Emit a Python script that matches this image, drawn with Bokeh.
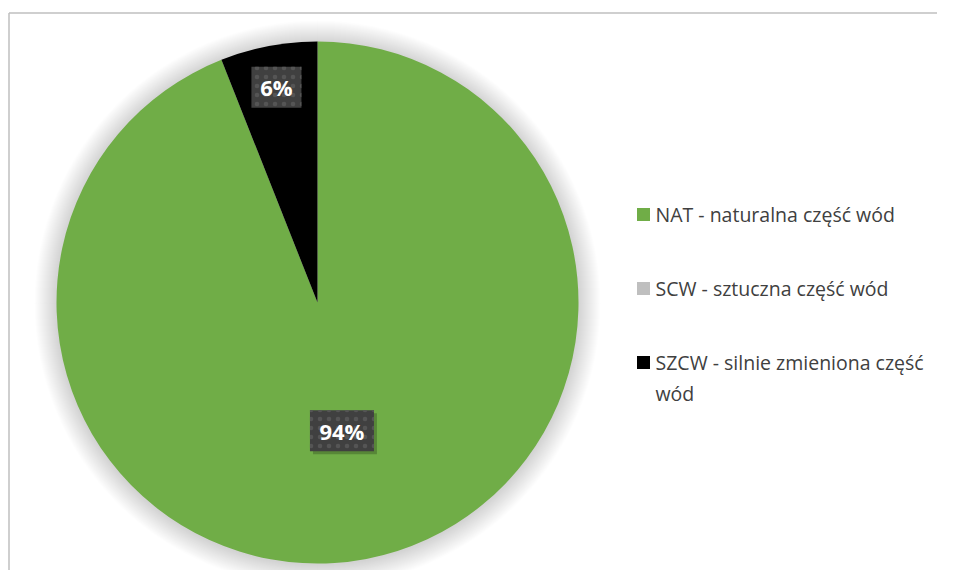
import math
from bokeh.plotting import figure
from bokeh.models import Range1d
from bokeh.core.properties import value
from bokeh.embed import file_html
from bokeh.resources import INLINE

# ---- data ----
categories = ["NAT - naturalna część wód", "SCW - sztuczna część wód", "SZCW - silnie zmieniona część\nwód"]
shares = [94, 0, 6]
colors = ["#70AD47", "#BFBFBF", "#000000"]

W, H = 937, 570
p = figure(width=W, height=H, output_backend="svg", toolbar_location=None,
           x_range=Range1d(0, W), y_range=Range1d(0, H),
           x_axis_type=None, y_axis_type=None, min_border=0)
p.grid.visible = False
p.outline_line_color = None
p.background_fill_color = "white"

# chart area border (top and left visible)
p.segment(x0=[8.5, 8.5], y0=[H - 12.5, 0], x1=[W, 8.5], y1=[H - 12.5, H - 12.5],
          line_color="#BFBFBF", line_width=1.5)

cx, cy, R = 317, 268, 261

# soft shadow around the pie
for k in range(22, 0, -1):
    p.circle(x=cx, y=cy - 1, radius=R + k, fill_color="black", fill_alpha=0.007, line_color=None)

total = sum(shares)
cum = 0.0
label_frac = {0: 0.50, 2: 0.84}
labels = []
for i, (v, c) in enumerate(zip(shares, colors)):
    a0 = math.pi / 2 - 2 * math.pi * cum / total
    cum += v
    a1 = math.pi / 2 - 2 * math.pi * cum / total
    if v <= 0:
        continue
    p.wedge(x=cx, y=cy, radius=R, start_angle=a0, end_angle=a1, direction="clock",
            fill_color=c, line_color=None)
    mid = (a0 + a1) / 2
    f = label_frac.get(i, 0.6)
    labels.append((cx + f * R * math.cos(mid), cy + f * R * math.sin(mid), f"{v}%"))

# data labels
for (lx, ly, t) in labels:
    bw = 22 + 14 * len(t)
    bh = 41
    p.rect(x=lx + 3, y=ly - 3, width=bw, height=bh, fill_color="black", fill_alpha=0.22, line_color=None)
    p.rect(x=lx, y=ly, width=bw, height=bh, fill_color="#404040", line_color=None,
           hatch_pattern="dot", hatch_color="#555555", hatch_scale=9, hatch_weight=1)
    p.text(x=[lx], y=[ly], text=[t], text_color="white", text_font=value("Open Sans"),
           text_font_style="bold", text_font_size="22px", text_align="center", text_baseline="middle")

# legend
leg_x, leg_y0, leg_dy, line_dy = 643, 356, 74, 31
for i, (lab, c) in enumerate(zip(categories, colors)):
    y = leg_y0 - i * leg_dy
    p.rect(x=leg_x, y=y, width=13, height=13, fill_color=c, line_color=None)
    for j, ln in enumerate(lab.split("\n")):
        p.text(x=[leg_x + 12], y=[y - j * line_dy], text=[ln], text_color="#404040",
               text_font=value("Open Sans"), text_font_size="19.5px",
               text_align="left", text_baseline="middle")

open("out.html", "w").write(file_html(p, INLINE))
